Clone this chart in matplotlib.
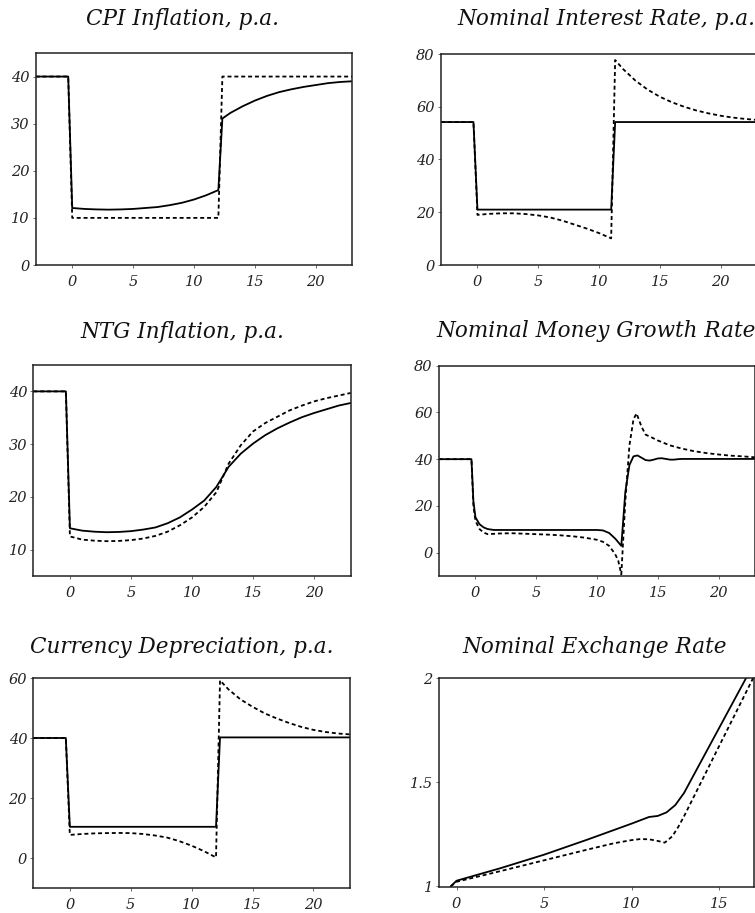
import matplotlib.pyplot as plt

# CPI inflation (solid = baseline, dotted = alternative)
cpi_x = [-3, -0.33, 0, 1, 2, 3, 4, 5, 6, 7, 8, 9, 10, 11, 12,
         12.33, 13, 14, 15, 16, 17, 18, 19, 20, 21, 22, 23]
cpi_base = [40, 40, 12.1, 11.9, 11.8, 11.75, 11.8, 11.9, 12.1, 12.3, 12.7, 13.2, 13.9, 14.8, 15.9,
            31.1, 32.3, 33.7, 34.9, 35.9, 36.7, 37.3, 37.8, 38.2, 38.6, 38.85, 39.0]
cpi_alt_x = [-3, -0.33, 0, 12, 12.33, 23]
cpi_alt = [40, 40, 10, 10, 40, 40]

# nominal interest rate
rate_x = [-3, -0.33, 0, 11, 11.33, 23]
rate_base = [54.2, 54.2, 21, 21, 54.2, 54.2]
rate_alt_x = [-3, -0.33, 0, 1, 2, 3, 4, 5, 6, 7, 8, 9, 10, 11,
              11.33, 12, 13, 14, 15, 16, 17, 18, 19, 20, 21, 22, 23]
rate_alt = [54.2, 54.2, 19.0, 19.4, 19.6, 19.6, 19.3, 18.8, 18.0, 16.8, 15.3, 13.8, 12.1, 10.1,
            77.7, 74.2, 69.9, 66.5, 63.8, 61.7, 60.0, 58.6, 57.5, 56.6, 55.9, 55.4, 55.0]

# NTG inflation
ntg_x = [-3, -0.33, 0, 1, 2, 3, 4, 5, 6, 7, 8, 9, 10, 11,
         12, 13, 14, 15, 16, 17, 18, 19, 20, 21, 22, 23]
ntg_base = [40, 40, 14.05, 13.6, 13.4, 13.3, 13.35, 13.5, 13.8, 14.2, 15.0, 16.1, 17.6, 19.3,
            21.9, 25.7, 28.2, 30.1, 31.7, 33.0, 34.1, 35.1, 35.9, 36.6, 37.3, 37.8]
ntg_alt = [40, 40, 12.5, 11.9, 11.7, 11.6, 11.65, 11.8, 12.1, 12.6, 13.4, 14.6, 16.1, 18.1,
           20.9, 26.3, 29.8, 32.4, 34.0, 35.2, 36.4, 37.3, 38.1, 38.7, 39.2, 39.7]

# nominal money growth rate
money_x = [-3, -0.33, -0.17, 0, 0.33, 0.67, 1, 1.5, 2, 10, 10.5, 11, 11.5, 12,
           12.33, 12.67, 13, 13.33, 13.67, 14, 14.33, 14.67, 15, 15.33, 15.67,
           16, 16.33, 16.67, 17, 23]
money_base = [40, 40, 22, 15.1, 12.2, 10.8, 10.1, 9.7, 9.7, 9.7, 9.5, 8.4, 6.0, 2.9,
              26, 37.5, 41.2, 41.6, 40.6, 39.6, 39.4, 39.8, 40.3, 40.4, 40.1,
              39.8, 39.8, 40.0, 40.1, 40.1]
money_alt_x = [-3, -0.33, -0.17, 0, 0.33, 0.67, 1, 2, 3, 4, 5, 6, 7, 8, 9, 10, 10.5, 11,
               11.5, 11.75, 12, 12.33, 12.67, 13, 13.25, 13.67, 14, 14.5, 15, 16, 17,
               18, 19, 20, 21, 22, 23]
money_alt = [40, 40, 20, 13.6, 10.1, 8.6, 7.9, 8.2, 8.3, 8.1, 7.9, 7.7, 7.4, 7.0, 6.4, 5.5, 4.6, 2.9,
             -0.7, -3.5, -9.3, 22, 46, 57, 59.6, 53.8, 50.5, 49.3, 48.0, 45.9, 44.5,
             43.4, 42.6, 42.0, 41.5, 41.2, 40.8]

# currency depreciation
dep_x = [-3, -0.33, 0, 12, 12.33, 23]
dep_base = [40, 40, 10.4, 10.4, 40.2, 40.2]
dep_alt_x = [-3, -0.33, 0, 1, 2, 3, 4, 5, 6, 7, 8, 9, 10, 11, 12,
             12.33, 13, 14, 15, 16, 17, 18, 19, 20, 21, 22, 23]
dep_alt = [40, 40, 7.7, 8.0, 8.2, 8.3, 8.35, 8.3, 8.0, 7.5, 6.8, 5.6, 4.1, 2.3, 0.2,
           59.2, 56.3, 52.9, 50.4, 48.2, 46.5, 45.0, 43.7, 42.7, 42.0, 41.5, 41.2]

# nominal exchange rate
fx_x = [-0.33, 0, 2.5, 5, 7.5, 10, 11, 11.5, 12, 12.5, 13, 17]
fx_base = [1.0, 1.027, 1.087, 1.152, 1.225, 1.301, 1.333, 1.338, 1.355, 1.39, 1.448, 2.07]
fx_alt_x = [-0.33, 0, 2.5, 5, 7.5, 9, 10, 10.5, 11, 11.5, 11.9, 12.33, 12.67, 13, 14, 15, 16, 17]
fx_alt = [1.0, 1.022, 1.073, 1.125, 1.177, 1.207, 1.222, 1.227, 1.226, 1.218, 1.21,
          1.24, 1.285, 1.336, 1.504, 1.672, 1.84, 2.008]

titles = ['CPI Inflation, p.a.', 'Nominal Interest Rate, p.a.',
          'NTG Inflation, p.a.', 'Nominal Money Growth Rate',
          'Currency Depreciation, p.a.', 'Nominal Exchange Rate']

W, H = 755, 913
fig = plt.figure(figsize=(W / 100, H / 100), dpi=100)
plt.rcParams['font.family'] = 'DejaVu Serif'


def make_axes(x0, x1, y0, y1):
    # pixel box -> figure fraction
    return fig.add_axes([x0 / W, 1 - y1 / H, (x1 - x0) / W, (y1 - y0) / H])


def style(ax, xlim, ylim, yticks, xticks=(0, 5, 10, 15, 20)):
    ax.set_xlim(xlim)
    ax.set_ylim(ylim)
    ax.set_xticks(xticks)
    ax.set_yticks(yticks)
    ax.set_xticklabels([f'{t:g}' for t in xticks], fontstyle='italic', fontsize=10.5)
    ax.set_yticklabels([f'{t:g}' for t in yticks], fontstyle='italic', fontsize=10.5)
    ax.tick_params(axis='both', direction='out', length=2.5, width=0.6, colors='#555555',
                   labelcolor='#222222')
    ax.tick_params(axis='y', pad=2)
    ax.tick_params(axis='x', pad=5)
    for s in ax.spines.values():
        s.set_linewidth(1.1)
        s.set_color('#222222')


solid = dict(color='black', lw=1.3)
dotted = dict(color='black', lw=1.3, linestyle=(0, (2.2, 1.6)))

ax1 = make_axes(35.7, 352.3, 53, 265)
ax1.plot(cpi_alt_x, cpi_alt, **dotted)
ax1.plot(cpi_x, cpi_base, **solid)
style(ax1, (-3, 23), (0, 45), [0, 10, 20, 30, 40])

ax2 = make_axes(441, 757, 54, 265)
ax2.plot(rate_alt_x, rate_alt, **dotted)
ax2.plot(rate_x, rate_base, **solid)
style(ax2, (-3, 23), (0, 80), [0, 20, 40, 60, 80])

ax3 = make_axes(33.3, 350.7, 365, 576)
ax3.plot(ntg_x, ntg_alt, **dotted)
ax3.plot(ntg_x, ntg_base, **solid)
style(ax3, (-3, 23), (5, 45), [10, 20, 30, 40])

ax4 = make_axes(439, 755, 365.7, 576)
ax4.plot(money_alt_x, money_alt, **dotted)
ax4.plot(money_x, money_base, **solid)
style(ax4, (-3, 23), (-10, 80), [0, 20, 40, 60, 80])

ax5 = make_axes(33.3, 350, 678, 888)
ax5.plot(dep_alt_x, dep_alt, **dotted)
ax5.plot(dep_x, dep_base, **solid)
style(ax5, (-3, 23), (-10, 60), [0, 20, 40, 60])

ax6 = make_axes(439, 754, 678, 887)
ax6.plot(fx_alt_x, fx_alt, **dotted)
ax6.plot(fx_x, fx_base, **solid)
style(ax6, (-1, 17), (0.997, 2.0), [1, 1.5, 2], xticks=(0, 5, 10, 15))

# titles, placed by their baseline centre (pixels)
title_pos = [(182, 25), (606, 25), (182, 338), (596, 337), (182, 653), (595, 653)]
for t, (px, py) in zip(titles, title_pos):
    fig.text(px / W, 1 - py / H, t, ha='center', va='baseline',
             fontsize=15.5, fontstyle='italic', color='#111111')

fig.savefig('out.png', dpi=100)
